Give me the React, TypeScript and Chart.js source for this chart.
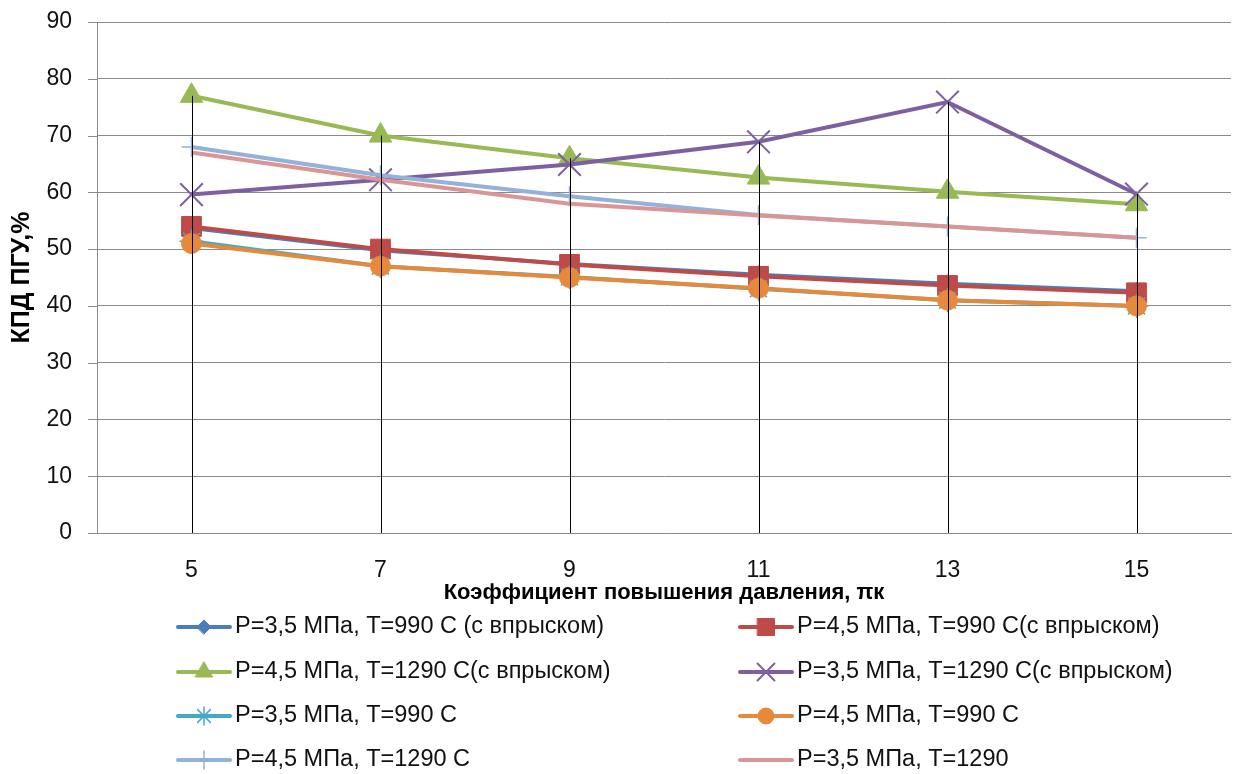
import React, { useEffect, useRef } from 'react';
import { Chart, registerables } from 'chart.js';
import { drawPoint } from 'chart.js/helpers';

Chart.register(...registerables);

// Pressure ratio values on the horizontal axis
const categories = ['5', '7', '9', '11', '13', '15'];

// Combined-cycle efficiency, %
const p35t990inj = [53.7, 49.8, 47.4, 45.5, 43.9, 42.6];
const p45t990inj = [54.0, 50.0, 47.3, 45.2, 43.6, 42.3];
const p45t1290inj = [77.0, 70.0, 66.0, 62.6, 60.1, 57.9];
const p35t1290inj = [59.6, 62.2, 64.9, 68.9, 75.9, 59.7];
const p35t990 = [51.4, 47.0, 45.1, 43.0, 41.0, 40.0];
const p45t990 = [51.0, 47.0, 45.0, 43.1, 41.0, 40.0];
const p45t1290 = [68.0, 63.0, 59.3, 56.0, 54.0, 52.0];
const p35t1290 = [67.0, 62.2, 58.0, 55.9, 54.0, 52.0];

const yMin = 0;
const yMax = 90;
const yStep = 10;

const seriesLabels = [
  'P=3,5 МПа, T=990 С (с впрыском)',
  'P=4,5 МПа, T=990 С(с впрыском)',
  'P=4,5 МПа, T=1290 С(с впрыском)',
  'P=3,5 МПа, T=1290 С(с впрыском)',
  'P=3,5 МПа, T=990 С',
  'P=4,5 МПа, T=990 С',
  'P=4,5 МПа, T=1290 С',
  'P=3,5 МПа, T=1290',
];

const FONT = '"Liberation Sans", Arial, sans-serif';
const GRID = '#8a8a8a';

type Style = {
  color: string;
  pointStyle: any;
  radius: number;
  legendRadius: number;
  markerBorder: number;
};

const styles: Style[] = [
  { color: '#4A7EBB', pointStyle: 'rectRot', radius: 9, legendRadius: 7, markerBorder: 1 },
  { color: '#BE4B48', pointStyle: 'rect', radius: 14, legendRadius: 12, markerBorder: 1 },
  { color: '#98B954', pointStyle: 'triangle', radius: 13, legendRadius: 10, markerBorder: 1 },
  { color: '#7D60A0', pointStyle: 'crossRot', radius: 16, legendRadius: 12, markerBorder: 2 },
  { color: '#46AAC5', pointStyle: 'star', radius: 12, legendRadius: 9, markerBorder: 1.5 },
  { color: '#E6893A', pointStyle: 'circle', radius: 10, legendRadius: 8, markerBorder: 1 },
  { color: '#93B1D9', pointStyle: 'cross', radius: 10, legendRadius: 9, markerBorder: 1.5 },
  { color: '#D99694', pointStyle: false, radius: 0, legendRadius: 0, markerBorder: 0 },
];

const seriesData = [
  p35t990inj,
  p45t990inj,
  p45t1290inj,
  p35t1290inj,
  p35t990,
  p45t990,
  p45t1290,
  p35t1290,
];

// short outward tick marks on the value axis
const yTickMarks = {
  id: 'yTickMarks',
  afterDraw(chart: any) {
    const { ctx } = chart;
    const ys = chart.scales.y;
    const x1 = ys.right;
    ctx.save();
    ctx.strokeStyle = GRID;
    ctx.lineWidth = 1;
    ys.ticks.forEach((t: any) => {
      const py = Math.round(ys.getPixelForValue(t.value)) + 0.5;
      ctx.beginPath();
      ctx.moveTo(x1 - 9, py);
      ctx.lineTo(x1, py);
      ctx.stroke();
    });
    ctx.restore();
  },
};

// vertical drop lines from the highest value at each category to the axis
const dropLines = {
  id: 'dropLines',
  afterDatasetsDraw(chart: any) {
    const { ctx } = chart;
    const xs = chart.scales.x;
    const ys = chart.scales.y;
    ctx.save();
    ctx.strokeStyle = '#000000';
    ctx.lineWidth = 1;
    categories.forEach((_, i) => {
      const top = Math.max(...seriesData.map((s) => s[i]));
      const px = Math.round(xs.getPixelForValue(i)) + 0.5;
      ctx.beginPath();
      ctx.moveTo(px, ys.getPixelForValue(top));
      ctx.lineTo(px, ys.getPixelForValue(0));
      ctx.stroke();
    });
    ctx.restore();
  },
};

// two-column legend under the axis title
const gridLegend = {
  id: 'gridLegend',
  afterDraw(chart: any) {
    const { ctx } = chart;
    const colX = [176, 738];
    const rowY = [627, 672, 716, 760];
    const swatch = 56;
    ctx.save();
    seriesLabels.forEach((label, i) => {
      const col = i % 2;
      const row = Math.floor(i / 2);
      const x0 = colX[col];
      const y = rowY[row];
      const st = styles[i];
      ctx.strokeStyle = st.color;
      ctx.lineWidth = 4;
      ctx.lineCap = 'round';
      ctx.beginPath();
      ctx.moveTo(x0 + 2, y);
      ctx.lineTo(x0 + swatch - 2, y);
      ctx.stroke();
      if (st.pointStyle) {
        ctx.fillStyle = st.color;
        ctx.strokeStyle = st.color;
        ctx.lineWidth = st.markerBorder;
        drawPoint(
          ctx,
          {
            pointStyle: st.pointStyle,
            rotation: 0,
            radius: st.legendRadius,
            borderWidth: st.markerBorder,
          },
          x0 + swatch / 2,
          y
        );
      }
      ctx.fillStyle = '#111111';
      ctx.font = `23.5px ${FONT}`;
      ctx.textBaseline = 'middle';
      ctx.textAlign = 'left';
      ctx.fillText(label, x0 + swatch + 3, y);
    });
    ctx.restore();
  },
};

export default function App() {
  const canvasRef = useRef<HTMLCanvasElement | null>(null);

  useEffect(() => {
    const canvas = canvasRef.current;
    if (!canvas) return;

    const datasets = seriesLabels.map((label, i) => ({
      label,
      data: seriesData[i],
      borderColor: styles[i].color,
      backgroundColor: styles[i].color,
      borderWidth: 4,
      pointStyle: styles[i].pointStyle,
      pointRadius: styles[i].radius,
      pointBorderWidth: styles[i].markerBorder,
      pointBackgroundColor: styles[i].color,
      pointBorderColor: styles[i].color,
      tension: 0,
      fill: false,
      clip: false as any,
      order: seriesLabels.length - i,
    }));

    const chart = new Chart(canvas, {
      type: 'line',
      data: { labels: categories, datasets },
      options: {
        responsive: false,
        animation: false,
        layout: { autoPadding: false, padding: { top: 22, right: 2, bottom: 168, left: 0 } },
        plugins: {
          legend: { display: false },
          tooltip: { enabled: false },
        },
        scales: {
          x: {
            offset: true,
            grid: {
              display: true,
              drawOnChartArea: false,
              drawTicks: true,
              tickLength: 22,
              tickColor: 'rgba(0,0,0,0)',
              color: 'rgba(0,0,0,0)',
            },
            border: { display: true, color: GRID, width: 1 },
            ticks: {
              color: '#111111',
              font: { family: FONT, size: 23 },
              padding: 2,
              maxRotation: 0,
            },
            title: {
              display: true,
              text: 'Коэффициент повышения давления, πк',
              color: '#000000',
              font: { family: FONT, size: 22, weight: 'bold' },
              padding: { top: 0, bottom: 0 },
            },
            afterFit(scale: any) {
              scale.height = 73;
            },
          },
          y: {
            min: yMin,
            max: yMax,
            ticks: {
              stepSize: yStep,
              color: '#111111',
              font: { family: FONT, size: 23 },
              padding: 2,
            },
            grid: {
              color: GRID,
              lineWidth: 1,
              drawTicks: true,
              tickLength: 23,
              tickColor: 'rgba(0,0,0,0)',
            },
            border: { display: true, color: GRID, width: 1 },
            title: {
              display: true,
              text: 'КПД ПГУ,%',
              color: '#000000',
              font: { family: FONT, size: 25, weight: 'bold' },
              padding: { top: 7, bottom: 0 },
            },
            afterFit(scale: any) {
              scale.width = 97;
            },
          },
        },
      },
      plugins: [yTickMarks, dropLines, gridLegend],
    });

    return () => chart.destroy();
  }, []);

  return (
    <canvas
      ref={canvasRef}
      width={1233}
      height={774}
      style={{ position: 'fixed', left: 0, top: 0, width: 1233, height: 774 }}
    />
  );
}
